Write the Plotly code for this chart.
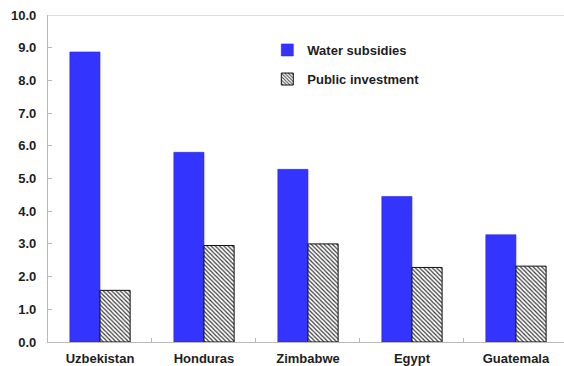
import plotly.graph_objects as go

countries = ["Uzbekistan", "Honduras", "Zimbabwe", "Egypt", "Guatemala"]
water_subsidies = [8.87, 5.8, 5.28, 4.45, 3.28]
public_investment = [1.58, 2.95, 3.0, 2.28, 2.32]
y_ticks = [0, 1, 2, 3, 4, 5, 6, 7, 8, 9, 10]

FONT = "Liberation Sans, Arial, sans-serif"
TEXT = "#1e1e1e"
AXIS = "#b8b8b8"

fig = go.Figure()
fig.add_trace(go.Bar(
    x=countries, y=water_subsidies, name="<b>Water subsidies</b>",
    marker=dict(color="#3434ff", line=dict(color="#2a2ad8", width=0.6)),
    legend="legend",
))
fig.add_trace(go.Bar(
    x=countries, y=public_investment, name="<b>Public investment</b>",
    marker=dict(
        color="white",
        line=dict(color="#111111", width=1),
        pattern=dict(shape="\\", size=3, solidity=0.4,
                     fgcolor="#3a3a3a", bgcolor="white", fillmode="replace"),
    ),
    legend="legend2",
))

legend_style = dict(
    xanchor="left", yanchor="middle",
    font=dict(family=FONT, size=13, color=TEXT),
    bgcolor="rgba(0,0,0,0)", borderwidth=0,
)

# top border of the plot area (no right-hand border)
fig.add_shape(type="line", xref="paper", yref="y", x0=0, x1=1, y0=10, y1=10,
              line=dict(color=AXIS, width=1.2))

fig.update_layout(
    width=564, height=366,
    margin=dict(l=48, r=0, t=15, b=24),
    paper_bgcolor="white", plot_bgcolor="white",
    barmode="group", bargap=0.42, bargroupgap=0,
    font=dict(family=FONT, size=13, color=TEXT),
    showlegend=True,
    legend=dict(x=0.425, y=0.893, **legend_style),
    legend2=dict(x=0.425, y=0.804, **legend_style),
    xaxis=dict(
        type="category", range=[-0.5, 4.462],
        showline=True, linecolor=AXIS, linewidth=1.2,
        ticks="inside", ticklen=4, tickcolor=AXIS, tickson="boundaries",
        tickvals=countries, ticktext=[f"<b>{c}</b>" for c in countries],
        ticklabelstandoff=4,
        showgrid=False, zeroline=False,
    ),
    yaxis=dict(
        range=[0, 10],
        showline=True, linecolor=AXIS, linewidth=1.2,
        ticks="inside", ticklen=4, tickcolor=AXIS,
        tickvals=y_ticks, ticktext=[f"<b>{v:.1f}</b>" for v in y_ticks],
        ticklabelstandoff=8,
        showgrid=False, zeroline=False,
    ),
)

fig.write_html("out.html")
